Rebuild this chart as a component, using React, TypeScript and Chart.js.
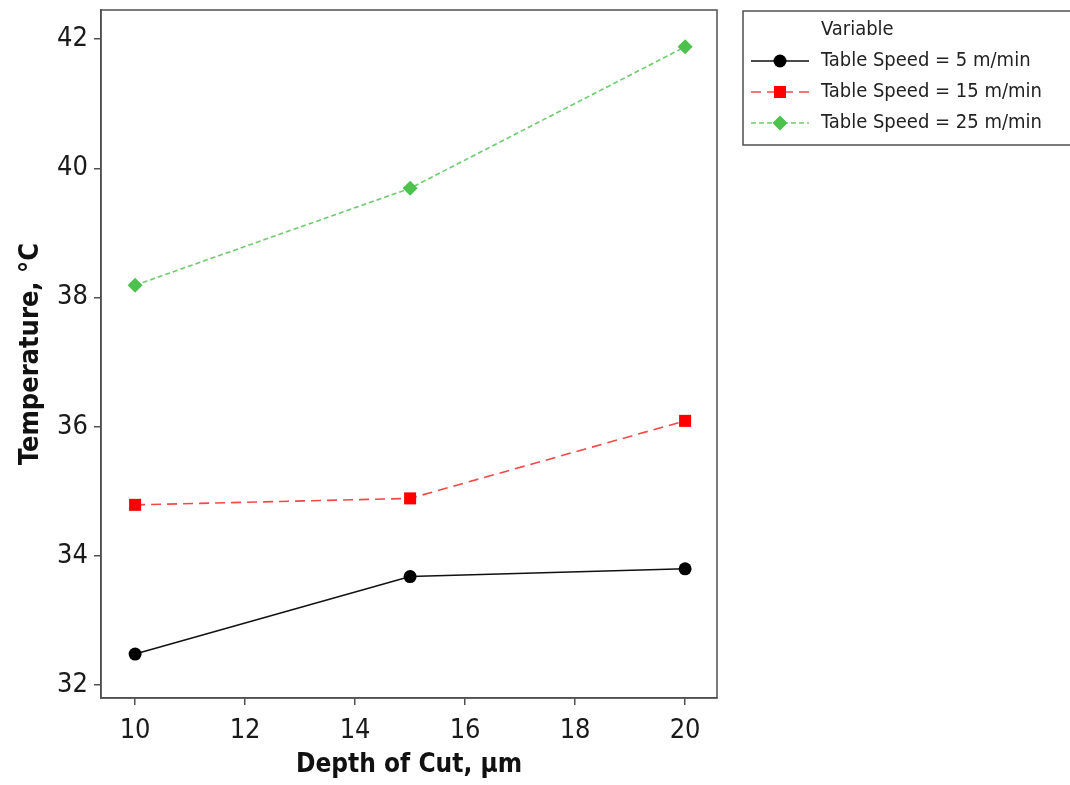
import React, { useEffect, useRef } from "react";
import { Chart, registerables } from "chart.js";

Chart.register(...registerables);

const depthOfCut = [10, 15, 20];
const speed5 = [32.48, 33.68, 33.8];
const speed15 = [34.79, 34.89, 36.09];
const speed25 = [38.19, 39.69, 41.88];
const seriesLabels = [
  "Table Speed = 5 m/min",
  "Table Speed = 15 m/min",
  "Table Speed = 25 m/min",
];
const xTickValues = [10, 12, 14, 16, 18, 20];
const yTickValues = [32, 34, 36, 38, 40, 42];
const legendTitle = "Variable";
const xTitle = "Depth of Cut, \u00b5m";
const yTitle = "Temperature, \u00b0C";

const FONT = '"DejaVu Sans Condensed", "DejaVu Sans", sans-serif';

const frameAndLegend = {
  id: "frameAndLegend",
  afterDraw(chart: any) {
    const { ctx, chartArea } = chart;
    ctx.save();
    ctx.strokeStyle = "#505050";
    ctx.lineWidth = 1.5;
    ctx.setLineDash([]);
    ctx.strokeRect(chartArea.left, chartArea.top, chartArea.right - chartArea.left, chartArea.bottom - chartArea.top);

    // legend box
    ctx.strokeRect(743, 11, 340, 134);
    ctx.fillStyle = "#222";
    ctx.font = `20px ${FONT}`;
    ctx.textBaseline = "middle";
    ctx.textAlign = "left";
    ctx.fillText(legendTitle, 821, 30);
    const rows = [61, 92, 123];
    chart.data.datasets.forEach((ds: any, i: number) => {
      const y = rows[i];
      ctx.strokeStyle = ds.borderColor;
      ctx.lineWidth = ds.borderWidth;
      ctx.setLineDash(ds.borderDash || []);
      ctx.beginPath();
      ctx.moveTo(751, y);
      ctx.lineTo(809, y);
      ctx.stroke();
      ctx.setLineDash([]);
      ctx.fillStyle = ds.pointBackgroundColor;
      const r = ds.pointRadius;
      ctx.beginPath();
      if (ds.pointStyle === "circle") {
        ctx.arc(780, y, r, 0, Math.PI * 2);
      } else if (ds.pointStyle === "rect") {
        const s = r * Math.SQRT1_2;
        ctx.rect(780 - s, y - s, 2 * s, 2 * s);
      } else {
        ctx.moveTo(780, y - r);
        ctx.lineTo(780 + r, y);
        ctx.lineTo(780, y + r);
        ctx.lineTo(780 - r, y);
        ctx.closePath();
      }
      ctx.fill();
      ctx.fillStyle = "#222";
      ctx.fillText(ds.label, 821, y);
    });
    ctx.restore();
  },
};

export default function App() {
  const ref = useRef<HTMLCanvasElement>(null);
  useEffect(() => {
    document.body.style.margin = "0";
    const toPts = (ys: number[]) => depthOfCut.map((x, i) => ({ x, y: ys[i] }));
    const chart = new Chart(ref.current!, {
      type: "line",
      data: {
        datasets: [
          {
            label: seriesLabels[0],
            data: toPts(speed5),
            borderColor: "#111111",
            borderWidth: 1.6,
            pointStyle: "circle",
            pointRadius: 6.5,
            pointBackgroundColor: "#000000",
            pointBorderWidth: 0,
          },
          {
            label: seriesLabels[1],
            data: toPts(speed15),
            borderColor: "#f24848",
            borderWidth: 1.6,
            borderDash: [10, 6],
            pointStyle: "rect",
            pointRadius: 8.5,
            pointBackgroundColor: "#ff0000",
            pointBorderWidth: 0,
          },
          {
            label: seriesLabels[2],
            data: toPts(speed25),
            borderColor: "#6ccc6c",
            borderWidth: 1.6,
            borderDash: [5, 3],
            pointStyle: "rectRot",
            pointRadius: 7.5,
            pointBackgroundColor: "#4cc24c",
            pointBorderWidth: 0,
          },
        ] as any,
      },
      options: {
        animation: false,
        responsive: false,
        devicePixelRatio: 1,
        layout: { padding: { left: 0, top: 10, right: 353, bottom: 0 } },
        plugins: { legend: { display: false }, tooltip: { enabled: false } },
        scales: {
          x: {
            type: "linear",
            min: 9.38,
            max: 20.58,
            afterBuildTicks: (s: any) => {
              s.ticks = xTickValues.map((v) => ({ value: v }));
            },
            afterFit: (s: any) => {
              s.height = 87;
              s.paddingLeft = 0;
              s.paddingRight = 0;
            },
            grid: { drawOnChartArea: false, drawTicks: true, tickLength: 7, color: "#505050", lineWidth: 1.5 },
            border: { display: true, color: "#505050", width: 1.5 },
            ticks: { color: "#1a1a1a", font: { family: FONT, size: 27 }, padding: 10, maxRotation: 0 },
            title: { display: true, text: xTitle, color: "#111", font: { family: FONT, size: 26, weight: "bold" }, padding: { top: 0, bottom: 4 } },
          },
          y: {
            type: "linear",
            min: 31.8,
            max: 42.45,
            afterBuildTicks: (s: any) => {
              s.ticks = yTickValues.map((v) => ({ value: v }));
            },
            afterFit: (s: any) => {
              s.width = 101;
              s.paddingTop = 0;
              s.paddingBottom = 0;
            },
            grid: { drawOnChartArea: false, drawTicks: true, tickLength: 7, color: "#505050", lineWidth: 1.5 },
            border: { display: true, color: "#505050", width: 1.5 },
            ticks: { color: "#1a1a1a", font: { family: FONT, size: 27 }, padding: 6 },
            title: { display: true, text: yTitle, color: "#111", font: { family: FONT, size: 27, weight: "bold" }, padding: { top: 15, bottom: 0 } },
          },
        },
      } as any,
      plugins: [frameAndLegend],
    });
    return () => chart.destroy();
  }, []);
  return (
    <div style={{ width: 1070, height: 785, background: "#fff" }}>
      <canvas ref={ref} width={1070} height={785} />
    </div>
  );
}
